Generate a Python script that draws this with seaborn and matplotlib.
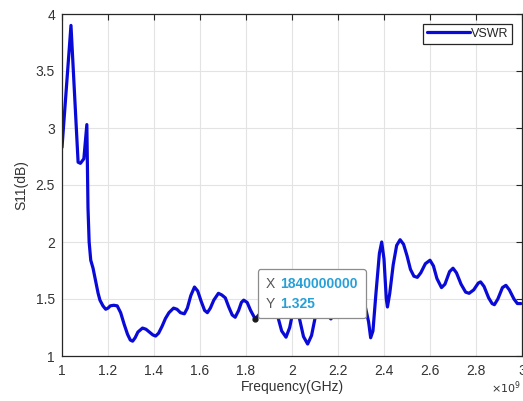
import seaborn as sns
import matplotlib
matplotlib.use("Agg")
import matplotlib.pyplot as plt
from matplotlib.offsetbox import AnnotationBbox, TextArea, HPacker, VPacker
import pandas as pd

# VSWR curve (frequency in GHz)
freq_ghz = [1.000, 1.039, 1.070, 1.080, 1.095, 1.108, 1.113, 1.118, 1.125, 1.135,
            1.147, 1.157, 1.165, 1.178, 1.190, 1.200, 1.210, 1.225, 1.240, 1.255,
            1.270, 1.285, 1.297, 1.307, 1.318, 1.330, 1.350, 1.365, 1.380, 1.395,
            1.407, 1.420, 1.435, 1.450, 1.465, 1.485, 1.500, 1.515, 1.532, 1.545,
            1.560, 1.576, 1.590, 1.605, 1.620, 1.632, 1.645, 1.660, 1.680, 1.695,
            1.710, 1.725, 1.740, 1.753, 1.768, 1.780, 1.790, 1.805, 1.820, 1.840,
            1.860, 1.885, 1.910, 1.935, 1.955, 1.974, 1.990, 2.005, 2.015, 2.030,
            2.050, 2.068, 2.085, 2.100, 2.115, 2.135, 2.155, 2.169, 2.185, 2.210,
            2.240, 2.270, 2.300, 2.320, 2.333, 2.342, 2.352, 2.365, 2.380, 2.390,
            2.400, 2.410, 2.415, 2.425, 2.440, 2.455, 2.470, 2.485, 2.500, 2.515,
            2.530, 2.545, 2.560, 2.580, 2.600, 2.615, 2.630, 2.650, 2.665, 2.685,
            2.700, 2.715, 2.735, 2.755, 2.770, 2.790, 2.810, 2.820, 2.835, 2.855,
            2.870, 2.880, 2.895, 2.915, 2.930, 2.945, 2.965, 2.980, 2.995]
vswr = [2.83, 3.90, 2.70, 2.69, 2.73, 3.03, 2.30, 2.00, 1.84, 1.77,
        1.65, 1.55, 1.49, 1.44, 1.41, 1.42, 1.44, 1.445, 1.44, 1.38,
        1.28, 1.19, 1.14, 1.13, 1.16, 1.21, 1.245, 1.235, 1.21, 1.185,
        1.175, 1.20, 1.26, 1.33, 1.38, 1.42, 1.41, 1.38, 1.37, 1.42,
        1.53, 1.605, 1.57, 1.48, 1.40, 1.38, 1.42, 1.49, 1.55, 1.535,
        1.51, 1.43, 1.36, 1.34, 1.40, 1.47, 1.49, 1.47, 1.40, 1.325,
        1.37, 1.45, 1.45, 1.37, 1.22, 1.165, 1.25, 1.40, 1.44, 1.35,
        1.17, 1.105, 1.18, 1.33, 1.42, 1.43, 1.36, 1.325, 1.37, 1.47,
        1.50, 1.48, 1.46, 1.42, 1.30, 1.16, 1.22, 1.55, 1.90, 2.00,
        1.85, 1.50, 1.43, 1.55, 1.80, 1.97, 2.02, 1.98, 1.88, 1.76,
        1.70, 1.69, 1.73, 1.81, 1.84, 1.79, 1.68, 1.60, 1.63, 1.74,
        1.77, 1.73, 1.63, 1.56, 1.55, 1.58, 1.64, 1.65, 1.61, 1.51,
        1.46, 1.45, 1.50, 1.60, 1.62, 1.58, 1.50, 1.46, 1.46]

x_ticks = [1.0, 1.2, 1.4, 1.6, 1.8, 2.0, 2.2, 2.4, 2.6, 2.8, 3.0]
x_labels = ["1", "1.2", "1.4", "1.6", "1.8", "2", "2.2", "2.4", "2.6", "2.8", "3"]
y_ticks = [1, 1.5, 2, 2.5, 3, 3.5, 4]
y_labels = ["1", "1.5", "2", "2.5", "3", "3.5", "4"]

# data tip
tip_x = 1840000000
tip_y = 1.325

df = pd.DataFrame({"freq": [f * 1e9 for f in freq_ghz], "vswr": vswr})

sns.set_theme(style="whitegrid")
plt.rcParams["font.family"] = ["Liberation Sans", "DejaVu Sans"]

fig = plt.figure(figsize=(5.23, 4.01), dpi=100)
ax = fig.add_axes([62 / 523, 45 / 401, 460 / 523, 342 / 401])

sns.lineplot(data=df, x="freq", y="vswr", color="#0a0ad8", linewidth=2.3,
             label="VSWR", ax=ax, sort=False)

ax.set_xlim(1e9, 3e9)
ax.set_ylim(1, 4)
ax.set_xticks([t * 1e9 for t in x_ticks])
ax.set_xticklabels(x_labels)
ax.set_yticks(y_ticks)
ax.set_yticklabels(y_labels)

ax.grid(True, color="#e3e3e3", linewidth=0.8)
for s in ax.spines.values():
    s.set_color("#262626")
    s.set_linewidth(0.9)
ax.tick_params(direction="in", top=True, right=True, length=4, width=0.8,
               colors="#262626", labelsize=10, pad=6)
ax.tick_params(axis="x", labelcolor="#333333")
ax.tick_params(axis="y", labelcolor="#333333", pad=5)

ax.set_xlabel("Frequency(GHz)", fontsize=10, color="#333333", labelpad=1)
ax.set_ylabel("S11(dB)", fontsize=10, color="#333333", labelpad=5)

# exponent label at the bottom right
fig.text(491 / 523, 8 / 401, r"$\times10^{9}$", fontsize=8, color="#333333",
         ha="left", va="baseline")

leg = ax.legend(loc="upper right", fontsize=9, frameon=True, fancybox=False,
                edgecolor="#262626", framealpha=1, handlelength=3.4,
                handletextpad=0.1, borderpad=0.3, borderaxespad=0.8)
leg.get_frame().set_linewidth(0.9)

# data tip marker and box
ax.plot([tip_x], [tip_y], "o", color="#1a1a1a", markersize=3.5, zorder=5)
lab = dict(color="#555555", fontsize=10)
val = dict(color="#27a0d8", fontsize=10, fontweight="bold")
rows = VPacker(children=[
    HPacker(children=[TextArea("X", textprops=lab), TextArea("1840000000", textprops=val)],
            pad=0, sep=4),
    HPacker(children=[TextArea("Y", textprops=lab), TextArea("1.325", textprops=val)],
            pad=0, sep=4),
], pad=0, sep=4)
ab = AnnotationBbox(rows, (tip_x, tip_y), xybox=(7.5, 6), boxcoords="offset points",
                    box_alignment=(0, 0), pad=0.5, frameon=True,
                    bboxprops=dict(edgecolor="#8c8c8c", facecolor="white",
                                   linewidth=0.9, boxstyle="round,pad=0.5,rounding_size=0.15"))
ab.set_zorder(6)
ax.add_artist(ab)

fig.savefig("out.png", dpi=100)
